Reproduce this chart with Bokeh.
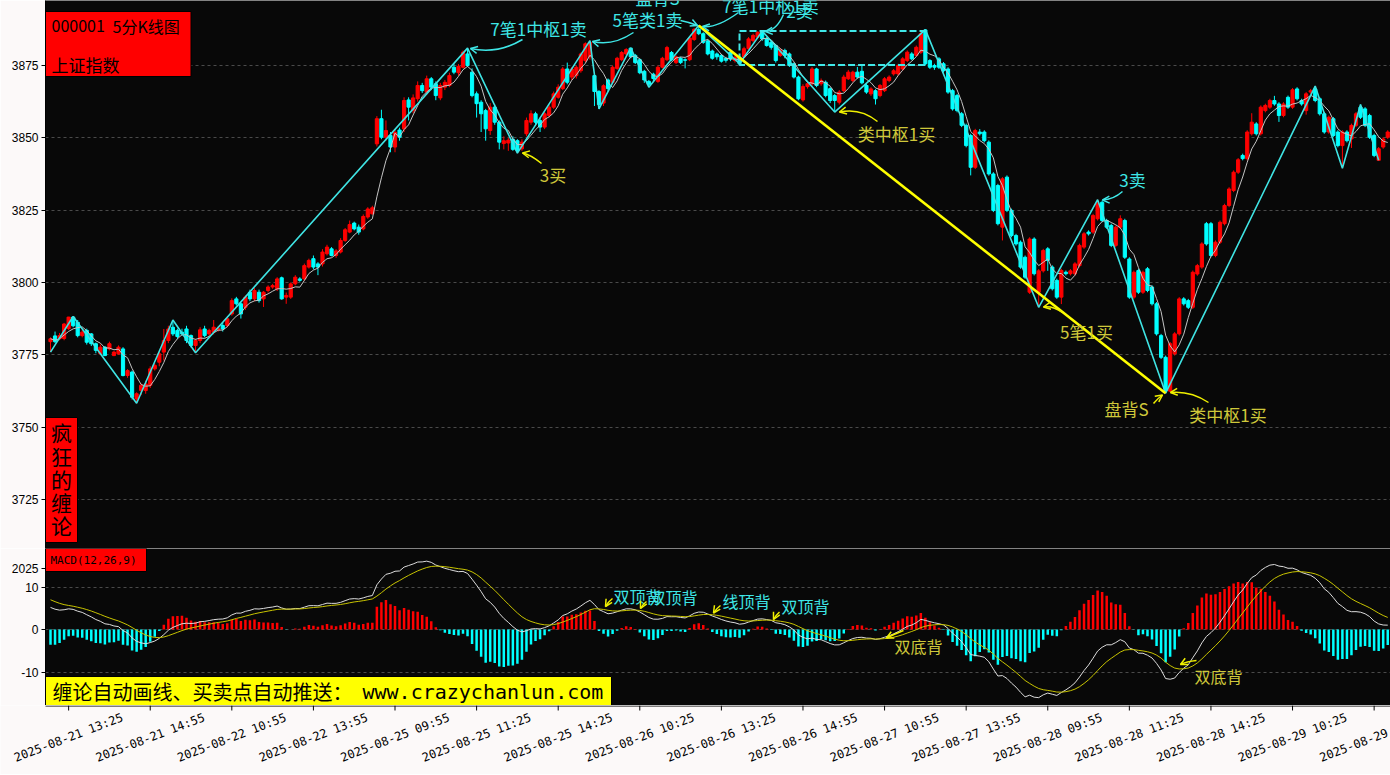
import numpy as np
from bokeh.plotting import figure
from bokeh.layouts import column
from bokeh.models import Range1d, FixedTicker, ColumnDataSource, Arrow, OpenHead
from bokeh.core.properties import value
from bokeh.embed import file_html
from bokeh.resources import INLINE

# ---------------- data ----------------
bar_open = [
    3779.5, 3781.5, 3780.5, 3780.6, 3784.0, 3788.0, 3786.2, 3781.6, 3783.4, 3782.2,
    3778.8, 3775.3, 3777.6, 3777.0, 3774.7, 3775.3, 3777.0, 3767.8, 3769.0, 3759.7,
    3762.6, 3762.6, 3764.4, 3770.1, 3772.4, 3775.9, 3779.9, 3784.5, 3783.4, 3782.8,
    3783.9, 3781.6, 3778.2, 3779.9, 3783.9, 3782.2, 3782.8, 3783.6, 3785.1, 3785.1,
    3789.1, 3794.3, 3792.6, 3791.4, 3796.6, 3794.3, 3796.6, 3794.3, 3797.2, 3798.4,
    3797.8, 3801.6, 3794.9, 3794.9, 3799.5, 3801.2, 3801.2, 3805.3, 3808.2, 3806.4,
    3806.4, 3809.9, 3811.6, 3809.3, 3810.5, 3814.5, 3817.4, 3820.5, 3819.1, 3818.5,
    3822.6, 3823.7, 3847.9, 3856.6, 3850.2, 3850.8, 3846.8, 3852.7, 3853.1, 3863.1,
    3859.4, 3863.5, 3868.1, 3865.8, 3870.4, 3868.7, 3863.8, 3867.5, 3868.1, 3874.4,
    3872.5, 3874.4, 3879.0, 3872.7, 3865.2, 3862.3, 3859.4, 3852.5, 3860.6, 3855.4,
    3848.0, 3848.2, 3849.5, 3849.0, 3846.2, 3851.4, 3855.4, 3858.3, 3856.0, 3853.7,
    3857.7, 3860.6, 3864.0, 3867.0, 3873.8, 3871.0, 3871.5, 3873.2, 3876.7, 3878.0,
    3871.5, 3866.0, 3862.0, 3870.0, 3869.2, 3874.0, 3877.0, 3879.0, 3881.0, 3878.5,
    3877.0, 3873.0, 3869.5, 3872.0, 3869.5, 3874.4, 3877.0, 3879.5, 3876.0, 3877.5,
    3877.0, 3877.0, 3884.0, 3887.5, 3886.0, 3883.5, 3880.0, 3879.0, 3878.5, 3877.5,
    3879.6, 3876.7, 3877.9, 3877.9, 3880.8, 3883.6, 3884.8, 3886.9, 3884.2, 3883.0,
    3881.9, 3878.5, 3880.2, 3879.0, 3875.6, 3871.0, 3863.1, 3867.7, 3868.7, 3873.8,
    3868.7, 3869.2, 3867.0, 3864.6, 3862.3, 3866.3, 3870.4, 3869.8, 3872.7, 3873.0,
    3868.1, 3865.2, 3866.3, 3864.6, 3866.3, 3869.8, 3872.1, 3872.1, 3873.8, 3876.7,
    3879.0, 3878.5, 3879.6, 3887.3, 3876.7, 3875.0, 3877.3, 3875.6, 3873.8, 3866.3,
    3864.6, 3858.3, 3854.3, 3850.8, 3839.8, 3852.0, 3852.0, 3848.5, 3837.5, 3833.5,
    3819.1, 3836.4, 3824.9, 3816.2, 3813.9, 3808.7, 3796.6, 3815.0, 3796.6, 3804.0,
    3811.6, 3805.3, 3800.7, 3794.9, 3803.5, 3803.0, 3803.0, 3805.8, 3812.2, 3817.4,
    3817.4, 3822.0, 3827.7, 3821.4, 3819.7, 3812.8, 3819.1, 3821.4, 3808.1, 3794.9,
    3804.1, 3796.6, 3804.7, 3798.4, 3792.6, 3781.6, 3774.1, 3762.4, 3775.3, 3782.2,
    3794.3, 3793.7, 3791.4, 3802.9, 3805.3, 3820.3, 3820.3, 3809.3, 3813.9, 3820.3,
    3826.6, 3831.8, 3838.1, 3843.9, 3842.8, 3851.4, 3854.8, 3851.4, 3859.4, 3860.6,
    3862.9, 3861.7, 3857.7, 3864.0, 3860.6, 3866.9, 3862.9, 3859.4, 3865.8, 3866.9,
    3863.5, 3858.3, 3852.0, 3856.6, 3852.0, 3847.3, 3852.0, 3849.6, 3854.3, 3860.6,
    3860.0, 3857.7, 3850.8, 3842.2, 3846.8, 3850.2,
]
bar_close = [
    3780.5, 3779.5, 3781.6, 3785.6, 3788.0, 3785.0, 3781.6, 3782.8, 3779.3, 3778.8,
    3776.5, 3777.6, 3774.7, 3778.8, 3775.9, 3777.6, 3767.8, 3769.5, 3760.3, 3761.5,
    3764.4, 3764.9, 3770.1, 3771.3, 3775.3, 3779.9, 3783.9, 3782.2, 3781.3, 3782.2,
    3779.9, 3778.2, 3779.9, 3783.6, 3781.6, 3783.4, 3784.5, 3784.2, 3783.9, 3787.4,
    3793.7, 3792.6, 3789.1, 3794.9, 3794.3, 3797.2, 3793.7, 3796.6, 3798.4, 3798.9,
    3801.2, 3794.3, 3795.5, 3799.5, 3801.8, 3800.7, 3805.8, 3807.6, 3805.3, 3805.3,
    3810.5, 3812.2, 3809.3, 3810.9, 3814.5, 3818.2, 3820.0, 3818.5, 3817.4, 3822.8,
    3825.4, 3825.8, 3856.6, 3850.2, 3852.5, 3846.8, 3851.9, 3850.2, 3862.9, 3860.6,
    3863.8, 3868.1, 3866.3, 3870.4, 3867.5, 3864.6, 3868.1, 3869.2, 3871.5, 3872.7,
    3874.7, 3879.6, 3875.0, 3864.6, 3861.8, 3858.3, 3853.1, 3860.6, 3855.4, 3848.5,
    3849.0, 3849.2, 3846.0, 3845.6, 3848.5, 3856.0, 3858.3, 3855.4, 3853.7, 3858.3,
    3860.6, 3865.2, 3867.5, 3873.8, 3869.2, 3873.8, 3874.4, 3879.0, 3882.5, 3883.0,
    3866.0, 3861.5, 3868.0, 3867.0, 3874.4, 3877.5, 3879.5, 3880.5, 3878.0, 3876.0,
    3872.5, 3870.0, 3868.5, 3870.5, 3874.4, 3877.5, 3881.2, 3877.0, 3878.0, 3876.0,
    3876.8, 3884.5, 3887.5, 3886.0, 3883.0, 3879.0, 3877.5, 3878.0, 3876.5, 3876.8,
    3877.3, 3877.9, 3875.6, 3880.8, 3884.2, 3885.4, 3886.5, 3884.2, 3881.9, 3881.3,
    3876.7, 3880.2, 3878.5, 3875.0, 3871.0, 3863.5, 3867.7, 3868.7, 3873.8, 3868.1,
    3869.8, 3864.6, 3862.9, 3862.9, 3865.8, 3871.0, 3872.7, 3872.7, 3871.0, 3869.0,
    3865.8, 3866.9, 3863.5, 3868.1, 3870.4, 3871.0, 3873.2, 3875.0, 3877.3, 3879.6,
    3877.3, 3881.3, 3886.0, 3875.6, 3874.4, 3874.4, 3874.4, 3873.2, 3865.8, 3860.0,
    3859.4, 3854.3, 3847.3, 3839.8, 3852.5, 3851.4, 3849.0, 3837.5, 3824.9, 3820.3,
    3835.8, 3824.9, 3816.2, 3813.3, 3805.3, 3801.8, 3815.0, 3803.0, 3804.0, 3811.0,
    3807.6, 3797.8, 3794.9, 3804.1, 3803.0, 3804.0, 3806.4, 3812.8, 3816.8, 3816.8,
    3823.1, 3827.2, 3821.4, 3819.1, 3812.8, 3819.1, 3822.0, 3808.7, 3794.9, 3803.5,
    3796.6, 3803.5, 3797.2, 3792.6, 3782.2, 3774.1, 3762.6, 3778.8, 3782.2, 3794.3,
    3792.6, 3791.4, 3803.5, 3805.8, 3813.3, 3813.3, 3809.3, 3813.9, 3820.8, 3826.6,
    3832.3, 3838.1, 3842.4, 3842.8, 3852.0, 3855.4, 3851.4, 3860.6, 3861.2, 3862.9,
    3861.7, 3857.7, 3861.7, 3860.6, 3866.6, 3863.5, 3861.7, 3865.2, 3866.3, 3862.9,
    3858.3, 3852.0, 3857.1, 3850.8, 3847.3, 3852.0, 3849.0, 3854.3, 3858.3, 3857.1,
    3854.3, 3850.2, 3843.9, 3846.2, 3849.6, 3852.0,
]
bar_high = [
    3781.0, 3783.0, 3782.5, 3786.0, 3788.1, 3788.2, 3787.0, 3783.5, 3784.0, 3782.5,
    3779.2, 3778.5, 3778.0, 3779.5, 3776.3, 3778.2, 3777.6, 3770.0, 3769.5, 3762.0,
    3765.0, 3766.0, 3771.0, 3772.0, 3776.0, 3783.9, 3785.0, 3787.0, 3784.0, 3784.0,
    3785.0, 3782.0, 3780.5, 3784.5, 3785.0, 3784.0, 3787.0, 3785.0, 3786.0, 3788.0,
    3794.5, 3795.0, 3793.0, 3795.5, 3797.5, 3798.0, 3797.5, 3797.0, 3799.0, 3799.5,
    3801.8, 3802.0, 3796.5, 3800.0, 3802.5, 3801.8, 3806.5, 3808.2, 3809.3, 3807.0,
    3811.5, 3813.0, 3812.2, 3811.5, 3815.3, 3818.8, 3821.4, 3821.0, 3820.0, 3823.5,
    3826.0, 3826.5, 3857.5, 3859.7, 3856.0, 3852.0, 3853.0, 3853.5, 3864.0, 3864.0,
    3865.0, 3869.5, 3869.0, 3871.5, 3871.0, 3869.5, 3869.0, 3870.0, 3872.5, 3875.5,
    3875.5, 3880.2, 3881.0, 3874.0, 3866.0, 3863.0, 3860.0, 3862.0, 3861.5, 3856.0,
    3850.5, 3850.0, 3850.5, 3849.5, 3849.5, 3857.0, 3859.5, 3859.0, 3857.0, 3859.0,
    3861.5, 3866.0, 3868.5, 3874.5, 3876.0, 3874.5, 3875.0, 3879.5, 3883.0, 3883.6,
    3872.0, 3866.5, 3868.5, 3870.5, 3875.0, 3878.0, 3880.0, 3881.0, 3881.1, 3879.0,
    3877.5, 3873.5, 3870.0, 3872.5, 3875.0, 3878.0, 3881.8, 3880.0, 3878.5, 3878.0,
    3877.5, 3885.0, 3888.0, 3888.8, 3886.5, 3884.0, 3880.5, 3879.5, 3879.0, 3878.0,
    3880.0, 3878.5, 3878.5, 3881.5, 3884.8, 3886.0, 3886.8, 3886.9, 3884.8, 3883.5,
    3882.5, 3881.0, 3880.8, 3879.5, 3876.0, 3871.5, 3868.5, 3869.2, 3874.5, 3874.2,
    3870.5, 3869.8, 3867.5, 3865.2, 3866.5, 3871.8, 3873.5, 3873.2, 3874.5, 3875.0,
    3868.6, 3867.5, 3866.8, 3868.6, 3871.0, 3871.6, 3873.8, 3875.6, 3877.9, 3880.2,
    3879.6, 3881.9, 3886.6, 3887.4, 3877.2, 3875.6, 3877.9, 3876.2, 3874.4, 3866.9,
    3865.2, 3858.9, 3854.9, 3851.4, 3853.1, 3853.0, 3852.6, 3849.1, 3838.1, 3834.1,
    3836.4, 3837.0, 3825.5, 3816.8, 3814.5, 3809.3, 3815.6, 3815.6, 3804.6, 3811.6,
    3812.2, 3805.9, 3801.3, 3804.7, 3804.1, 3804.6, 3807.0, 3813.4, 3817.4, 3818.0,
    3823.7, 3828.6, 3828.3, 3822.0, 3820.3, 3819.7, 3823.2, 3822.0, 3808.7, 3804.1,
    3804.7, 3804.1, 3805.3, 3799.0, 3793.2, 3782.2, 3774.7, 3779.4, 3782.8, 3794.9,
    3794.9, 3794.3, 3804.1, 3806.4, 3813.9, 3820.9, 3820.9, 3814.5, 3821.4, 3827.2,
    3832.9, 3838.7, 3843.0, 3844.5, 3852.6, 3858.5, 3855.4, 3861.2, 3861.8, 3863.5,
    3864.5, 3862.3, 3862.3, 3864.6, 3867.2, 3867.5, 3863.5, 3865.8, 3866.9, 3867.9,
    3864.1, 3858.9, 3857.7, 3857.2, 3852.6, 3852.6, 3852.6, 3854.9, 3858.9, 3861.5,
    3860.6, 3858.3, 3851.4, 3846.8, 3850.2, 3852.6,
]
bar_low = [
    3775.9, 3779.0, 3780.0, 3780.0, 3783.5, 3784.5, 3781.0, 3781.0, 3778.5, 3778.0,
    3775.5, 3775.0, 3774.5, 3776.5, 3774.5, 3775.0, 3767.5, 3767.0, 3759.5, 3758.2,
    3761.0, 3761.5, 3763.5, 3769.5, 3771.0, 3773.0, 3779.0, 3781.5, 3780.5, 3781.5,
    3779.0, 3777.5, 3775.7, 3779.0, 3781.0, 3781.5, 3782.0, 3783.0, 3783.0, 3784.5,
    3788.5, 3792.0, 3787.5, 3790.5, 3793.5, 3793.5, 3793.0, 3791.5, 3796.5, 3797.8,
    3797.0, 3794.0, 3792.6, 3794.3, 3799.0, 3800.2, 3800.5, 3804.8, 3804.5, 3802.5,
    3805.5, 3809.3, 3809.0, 3808.5, 3810.0, 3814.0, 3817.0, 3818.0, 3816.5, 3818.0,
    3822.0, 3823.5, 3847.0, 3849.5, 3849.0, 3845.0, 3845.0, 3849.0, 3852.0, 3856.0,
    3858.5, 3862.5, 3865.5, 3865.0, 3866.5, 3863.0, 3863.0, 3866.5, 3867.5, 3872.0,
    3871.5, 3874.0, 3874.5, 3864.0, 3857.0, 3852.0, 3849.0, 3851.0, 3854.5, 3846.0,
    3846.0, 3845.5, 3845.5, 3844.7, 3845.5, 3850.5, 3854.5, 3854.5, 3852.0, 3853.0,
    3857.0, 3860.0, 3863.5, 3866.5, 3868.5, 3870.0, 3870.5, 3872.5, 3876.0, 3877.0,
    3861.0, 3860.0, 3861.0, 3866.0, 3868.5, 3873.5, 3876.5, 3878.5, 3877.5, 3875.5,
    3872.0, 3869.0, 3867.5, 3869.5, 3869.0, 3874.0, 3876.5, 3876.5, 3875.5, 3875.5,
    3874.0, 3876.5, 3883.5, 3885.5, 3882.5, 3878.5, 3877.0, 3877.0, 3876.0, 3876.0,
    3876.5, 3876.0, 3875.5, 3877.5, 3880.5, 3883.0, 3884.5, 3883.5, 3881.5, 3880.5,
    3876.0, 3878.0, 3877.5, 3874.5, 3870.5, 3863.0, 3862.5, 3867.0, 3868.0, 3867.5,
    3868.0, 3864.0, 3862.0, 3858.9, 3861.5, 3865.8, 3870.0, 3869.2, 3870.5, 3868.5,
    3865.2, 3864.5, 3861.5, 3864.0, 3865.8, 3869.2, 3871.5, 3871.5, 3873.2, 3876.2,
    3876.8, 3878.0, 3879.0, 3875.0, 3873.8, 3873.5, 3873.8, 3872.6, 3865.2, 3859.4,
    3858.8, 3853.7, 3846.7, 3837.0, 3839.2, 3850.8, 3848.4, 3836.9, 3824.3, 3819.7,
    3814.5, 3824.3, 3815.6, 3812.7, 3804.7, 3801.2, 3796.0, 3802.4, 3791.4, 3803.4,
    3804.0, 3797.2, 3794.3, 3792.5, 3802.4, 3802.4, 3802.4, 3805.2, 3811.6, 3816.2,
    3816.8, 3821.4, 3820.8, 3818.5, 3812.2, 3812.2, 3818.5, 3808.1, 3794.3, 3794.3,
    3796.0, 3796.0, 3796.6, 3792.0, 3781.6, 3773.5, 3761.7, 3762.0, 3774.7, 3781.6,
    3792.0, 3790.8, 3790.8, 3802.3, 3804.7, 3812.7, 3808.7, 3808.7, 3813.3, 3819.7,
    3826.0, 3831.2, 3837.5, 3842.2, 3842.2, 3850.8, 3850.8, 3850.8, 3858.8, 3860.0,
    3861.1, 3855.5, 3857.1, 3860.0, 3860.0, 3862.9, 3861.1, 3858.0, 3865.2, 3862.3,
    3857.7, 3851.4, 3851.4, 3850.2, 3846.7, 3839.5, 3848.4, 3846.5, 3853.7, 3856.5,
    3853.7, 3849.6, 3843.3, 3842.2, 3846.2, 3849.6,
]

tick_index = [4, 22, 40, 58, 76, 94, 112, 130, 148, 166, 184, 202, 220, 238, 256, 274, 292]
tick_labels = ["2025-08-21 13:25", "2025-08-21 14:55", "2025-08-22 10:55", "2025-08-22 13:55",
               "2025-08-25 09:55", "2025-08-25 11:25", "2025-08-25 14:25", "2025-08-26 10:25",
               "2025-08-26 13:25", "2025-08-26 14:55", "2025-08-27 10:55", "2025-08-27 13:55",
               "2025-08-28 09:55", "2025-08-28 11:25", "2025-08-28 14:25", "2025-08-29 10:25",
               "2025-08-29 13:25"]

# chan-lun strokes (bi) pivots: bar index and price
bi_index = [0, 5, 19, 27, 32, 92, 103, 119, 121, 128, 132, 143, 152, 157, 173, 193,
            218, 231, 246, 279, 285, 289, 293]
bi_value = [3775.9, 3788.2, 3758.2, 3787.0, 3775.7, 3881.0, 3844.7, 3883.6, 3860.0,
            3881.1, 3867.5, 3888.8, 3875.6, 3886.9, 3858.9, 3887.4, 3791.4, 3828.6,
            3761.7, 3867.9, 3839.5, 3861.5, 3842.2]
# centre (zhongshu) box
zs_index = [152, 193]
zs_value = [3875.2, 3886.9]
# trend segment
trend_index = [143, 246]
trend_value = [3888.8, 3761.7]

ma_period = 5
macd_fast, macd_slow, macd_signal = 12, 26, 9
dif_start = 5.2      # DIF at the left edge
dea_start = 7.0      # DEA at the left edge
ema_fast_start = 3780.0

# ---------------- indicators ----------------
o = np.array(bar_open); c = np.array(bar_close)
h = np.array(bar_high); l = np.array(bar_low)
n = len(c)
idx = np.arange(n)
ma = np.array([c[max(0, i - ma_period + 1): i + 1].mean() for i in range(n)])
af, asl, ag = 2 / (macd_fast + 1), 2 / (macd_slow + 1), 2 / (macd_signal + 1)
ef = np.empty(n); es = np.empty(n); dea = np.empty(n)
ef[0] = ema_fast_start; es[0] = ema_fast_start - dif_start; dea[0] = dea_start
for i in range(1, n):
    ef[i] = ef[i - 1] + af * (c[i] - ef[i - 1])
    es[i] = es[i - 1] + asl * (c[i] - es[i - 1])
dif = ef - es
for i in range(1, n):
    dea[i] = dea[i - 1] + ag * (dif[i] - dea[i - 1])
hist = 2 * (dif - dea)

# ---------------- styling ----------------
RED = "#ff0000"; CYAN = "#00ffff"; BG = "#080808"; PAGE = "#fcf9f9"
CY_TXT = "#3ee6e6"; KHAKI = "#cfc83a"; YEL = "#f0f000"
CJK = value("Noto Sans CJK SC")
MONO = value("DejaVu Sans Mono")

# reference-pixel helpers for annotation layout
def ix(px): return (px - 50.0) / 4.533
def mv(py): return 3875.0 - (py - 65.0) / 2.892
def dv(py): return (629.0 - py) / 4.25

xr = Range1d(ix(45), ix(1390))

def style_axes(p):
    p.yaxis.major_label_text_font = "Liberation Sans"
    p.yaxis.major_label_text_font_size = "12px"
    p.yaxis.major_label_text_color = "#000000"
    p.yaxis.major_tick_out = 4
    p.yaxis.major_tick_in = 0
    p.yaxis.minor_tick_line_color = None
    p.yaxis.axis_line_color = "#000000"
    p.yaxis.major_tick_line_color = "#000000"
    p.yaxis.major_label_standoff = 3
    p.xgrid.visible = False
    p.ygrid.grid_line_color = "#4a4a4a"
    p.ygrid.grid_line_dash = "3 3"

p1 = figure(frame_width=1345, frame_height=548, x_range=xr, y_range=Range1d(mv(548), mv(0)),
            output_backend="svg", toolbar_location=None, min_border=0, min_border_left=45,
            min_border_right=0, min_border_top=0, min_border_bottom=0,
            background_fill_color=BG, border_fill_color=PAGE, outline_line_color=None)
p1.xaxis.visible = False
p1.yaxis.ticker = FixedTicker(ticks=[3725, 3750, 3775, 3800, 3825, 3850, 3875])
style_axes(p1)

cols = [RED if c[i] >= o[i] else CYAN for i in range(n)]
src = ColumnDataSource(dict(x=idx, o=o, c=c, h=h, l=l, top=np.maximum(o, c),
                            bot=np.minimum(o, c), col=cols))
p1.segment(x0="x", y0="h", x1="x", y1="l", source=src, line_color="col", line_width=1)
p1.vbar(x="x", width=0.7, top="top", bottom="bot", source=src, fill_color="col",
        line_color="col", line_width=1)
p1.line(idx, ma, line_color="#c4c4c4", line_width=1)
p1.line(bi_index, bi_value, line_color="#3fe3e3", line_width=1.6)
p1.quad(left=zs_index[0], right=zs_index[1], bottom=zs_value[0], top=zs_value[1],
        fill_alpha=0, line_color="#40e8e8", line_width=2, line_dash="7 3")
p1.line(trend_index, trend_value, line_color="#ffff00", line_width=2.6)

# labels in the main panel (reference pixel centres)
main_texts = [
    ("7笔1中枢1卖", 538, 27.5, CY_TXT), ("5笔类1卖", 647, 18.8, CY_TXT),
    ("盘背S", 657, -3.5, CY_TXT), ("7笔1中枢1卖", 770, 4.5, CY_TXT),
    ("2卖", 799, 9.5, CY_TXT), ("3卖", 1132, 179, CY_TXT),
    ("3买", 552.5, 174, KHAKI), ("类中枢1买", 896, 133.3, KHAKI),
    ("5笔1买", 1086, 330.8, KHAKI), ("盘背S", 1126, 408, KHAKI),
    ("类中枢1买", 1227.5, 414, KHAKI),
]
p1.text(x=[ix(t[1]) for t in main_texts], y=[mv(t[2]) for t in main_texts],
        text=[t[0] for t in main_texts], text_color=[t[3] for t in main_texts],
        text_font=CJK, text_font_size="17px", text_align="center", text_baseline="middle")

main_arrows = [
    ((522, 39), (497, 54), (470, 48), CY_TXT), ((633, 32), (612, 46), (592, 41), CY_TXT),
    ((680, 20), (690, 22), (697, 25), CY_TXT), ((738, 12), (716, 28), (702, 26), CY_TXT),
    ((783, 14), (776, 30), (765, 31), CY_TXT), ((541, 163), (530, 154), (522, 152.5), YEL),
    ((877, 121), (860, 107), (839, 111.5), YEL), ((1122, 191), (1113, 199), (1102, 199.5), CY_TXT),
    ((1062, 312), (1052, 305), (1043, 306.5), YEL), ((1153, 403), (1157, 398), (1162, 394.5), YEL),
    ((1208, 402), (1190, 390), (1170, 392), YEL),
]

def draw_arrows(p, arrows, fy):
    for (s, k, e, col) in arrows:
        p.quadratic(x0=ix(s[0]), y0=fy(s[1]), x1=ix(e[0]), y1=fy(e[1]), cx=ix(k[0]), cy=fy(k[1]),
                    line_color=col, line_width=1.5)
        p.add_layout(Arrow(end=OpenHead(size=7, line_color=col, line_width=1.5),
                           x_start=ix(k[0]), y_start=fy(k[1]), x_end=ix(e[0]), y_end=fy(e[1]),
                           line_alpha=0))

draw_arrows(p1, main_arrows, mv)

# title boxes
p1.quad(left=ix(44), right=ix(190.5), top=mv(11), bottom=mv(76), fill_color=RED,
        line_color="#000000", line_width=1)
p1.text(x=[ix(51), ix(112)], y=[mv(25.5), mv(25.5)], text=["000001", "5分K线图"],
        text_color="#000000", text_font=CJK, text_font_size="16px",
        text_align="left", text_baseline="middle")
p1.text(x=[ix(51)], y=[mv(63.5)], text=["上证指数"], text_color="#000000",
        text_font=CJK, text_font_size="17px", text_align="left", text_baseline="middle")
p1.quad(left=ix(44), right=ix(77), top=mv(417), bottom=mv(542), fill_color=RED,
        line_color="#000000", line_width=1)
side_chars = ["疯", "狂", "的", "缠", "论"]
p1.text(x=[ix(61)] * 5, y=[mv(v) for v in (431.5, 455, 478.5, 501, 524)], text=side_chars,
        text_color="#000000", text_font=CJK, text_font_size="21px",
        text_align="center", text_baseline="middle")

# ---------------- MACD panel ----------------
p2 = figure(frame_width=1345, frame_height=157, x_range=xr, y_range=Range1d(dv(705), dv(548)),
            output_backend="svg", toolbar_location=None, min_border=0, min_border_left=45,
            min_border_right=0, min_border_top=0, min_border_bottom=0,
            background_fill_color=BG, border_fill_color=PAGE, outline_line_color=None)
p2.yaxis.ticker = FixedTicker(ticks=[-10, 0, 10, 14.4])
p2.yaxis.major_label_overrides = {-10: "-10", 0: "0", 10: "10", 14.4: "2025"}
style_axes(p2)
p2.ygrid.ticker = FixedTicker(ticks=[-10, 0, 10])
p2.xaxis.visible = False

hcol = [RED if v >= 0 else CYAN for v in hist]
p2.vbar(x=idx, width=0.55, top=hist, bottom=0, fill_color=hcol, line_color=None)
p2.line(idx, dif, line_color="#dcdcdc", line_width=1)
p2.line(idx, dea, line_color="#c8c400", line_width=1)

macd_texts = [("双顶背", 637, 595, CY_TXT), ("双顶背", 673, 596, CY_TXT),
              ("线顶背", 746, 600, CY_TXT), ("双顶背", 805, 605.5, CY_TXT),
              ("双底背", 918, 645.5, KHAKI), ("双底背", 1218, 675, KHAKI)]
p2.text(x=[ix(t[1]) for t in macd_texts], y=[dv(t[2]) for t in macd_texts],
        text=[t[0] for t in macd_texts], text_color=[t[3] for t in macd_texts],
        text_font=CJK, text_font_size="16px", text_align="center", text_baseline="middle")
macd_arrows = [((612, 598), (608, 601), (605, 606), YEL), ((646, 601), (642, 604), (640, 608), YEL),
               ((720, 605), (716, 608), (713, 612.5), YEL), ((779, 611.5), (775, 615), (773, 619), YEL),
               ((903, 630), (893, 634), (886, 637.5), YEL), ((1196, 660), (1186, 661), (1180, 664), YEL)]
draw_arrows(p2, macd_arrows, dv)

p2.quad(left=ix(44), right=ix(146), top=dv(548), bottom=dv(571), fill_color=RED,
        line_color="#000000", line_width=1)
p2.text(x=[ix(50)], y=[dv(559.5)], text=["MACD(12,26,9)"], text_color="#000000",
        text_font=MONO, text_font_size="11px", text_align="left", text_baseline="middle")
p2.quad(left=ix(44), right=ix(611), top=dv(676), bottom=dv(705), fill_color="#ffff00",
        line_color="#000000", line_width=1)
p2.text(x=[ix(52)], y=[dv(691)], text=["缠论自动画线、买卖点自动推送："], text_color="#000000",
        text_font=CJK, text_font_size="20px", text_align="left", text_baseline="middle")
p2.text(x=[ix(362)], y=[dv(691)], text=["www.crazychanlun.com"], text_color="#000000",
        text_font=MONO, text_font_size="20px", text_align="left", text_baseline="middle")

# ---------------- time axis strip (ticks + rotated labels) ----------------
AX_H = 69
p3 = figure(frame_width=1390, frame_height=AX_H, x_range=Range1d(ix(0), ix(1390)),
            y_range=Range1d(0, AX_H), output_backend="svg", toolbar_location=None,
            min_border=0, x_axis_type=None, y_axis_type=None,
            background_fill_color=PAGE, border_fill_color=PAGE, outline_line_color=None)
p3.frame_align = False
p3.grid.visible = False
p3.segment(x0=tick_index, y0=[AX_H] * len(tick_index), x1=tick_index,
           y1=[AX_H - 5] * len(tick_index), line_color="#000000", line_width=1)
p3.segment(x0=[ix(45)], y0=[AX_H - 0.5], x1=[ix(1390)], y1=[AX_H - 0.5],
           line_color="#000000", line_width=1)
p3.text(x=tick_index, y=[AX_H - 32] * len(tick_index), text=tick_labels, angle=0.366,
        text_align="center", text_baseline="middle", text_font=MONO,
        text_font_size="12px", text_color="#000000")

layout = column(p1, p2, p3, spacing=0)
open("out.html", "w").write(file_html(layout, INLINE))
